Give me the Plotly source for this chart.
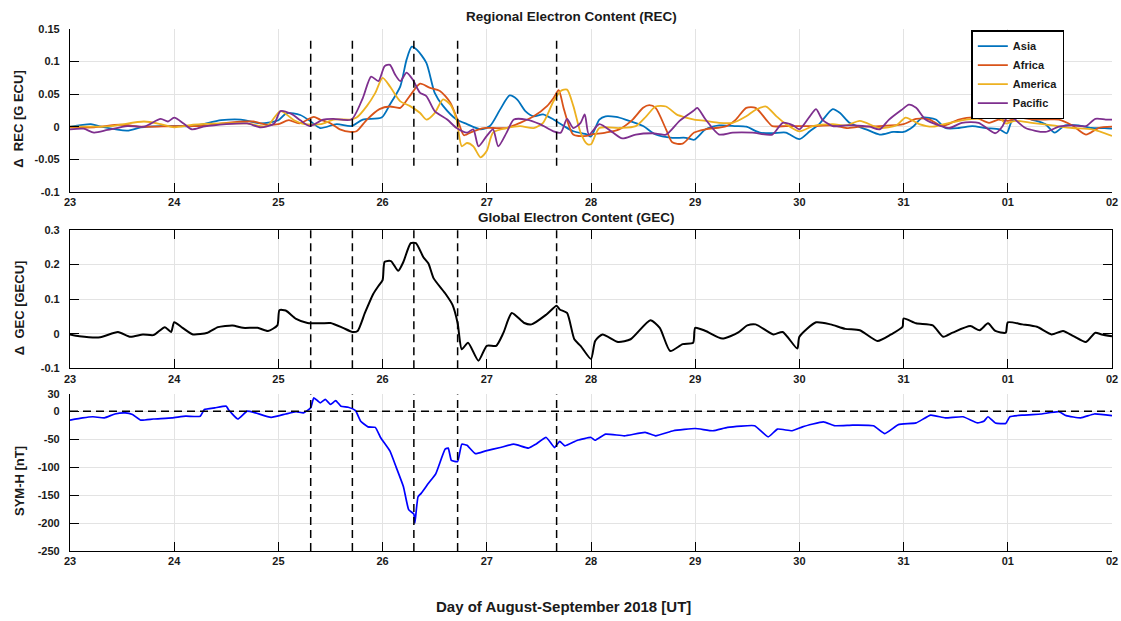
import plotly.graph_objects as go

# ---------------- data (day of Aug 2018; 32 = 01 Sep, 33 = 02 Sep) ----------------
asia_day = [23.0, 23.2, 23.3, 23.55, 23.68, 23.87, 24.0, 24.18, 24.45, 24.64, 24.83, 25.0, 25.08, 25.21, 25.31,
            25.4, 25.56, 25.7, 25.81, 25.99, 26.07, 26.17, 26.23, 26.28, 26.33, 26.42, 26.5, 26.58, 26.71, 26.81,
            26.94, 27.03, 27.13, 27.22, 27.29, 27.37, 27.45, 27.54, 27.64, 27.74, 27.83, 27.96, 28.0, 28.08, 28.14,
            28.24, 28.33, 28.5, 28.62, 28.78, 28.91, 28.99, 29.1, 29.23, 29.39, 29.49, 29.62, 29.74, 29.87, 30.0,
            30.1, 30.19, 30.32, 30.39, 30.48, 30.64, 30.77, 30.9, 31.0, 31.09, 31.18, 31.31, 31.4, 31.53, 31.66,
            31.79, 31.92, 31.99, 32.04, 32.14, 32.23, 32.36, 32.45, 32.55, 32.68, 32.8, 32.93, 33.0]
asia_val = [0.0, 0.004, 0.0, -0.006, -0.001, 0.001, 0.001, 0.001, 0.010, 0.011, 0.005, 0.010, 0.021, 0.018, 0.008,
            -0.002, 0.004, 0.001, 0.011, 0.014, 0.034, 0.062, 0.103, 0.123, 0.118, 0.098, 0.052, 0.032, 0.011, 0.004,
            -0.004, 0.001, 0.027, 0.048, 0.042, 0.024, 0.016, 0.019, 0.011, 0.001, -0.007, -0.012, -0.015, 0.011, 0.016,
            0.015, 0.011, 0.001, -0.012, -0.017, -0.017, -0.020, -0.004, 0.002, 0.001, 0.0, -0.009, -0.010, -0.009, -0.019,
            -0.007, 0.004, 0.027, 0.021, 0.006, -0.004, -0.012, -0.008, -0.008, 0.0, 0.014, 0.011, -0.002, -0.002, 0.001,
            -0.002, -0.004, -0.010, 0.009, 0.016, 0.011, 0.004, -0.009, 0.002, 0.002, -0.002, -0.002, -0.003]

africa_day = [23.0, 23.23, 23.48, 23.7, 24.0, 24.25, 24.5, 24.76, 24.89, 25.0, 25.1, 25.2, 25.34, 25.4, 25.49,
              25.59, 25.69, 25.75, 25.85, 25.97, 26.07, 26.17, 26.26, 26.36, 26.45, 26.55, 26.65, 26.73, 26.78, 26.87,
              26.97, 27.06, 27.19, 27.32, 27.45, 27.58, 27.64, 27.69, 27.74, 27.83, 27.96, 28.0, 28.14, 28.27, 28.4,
              28.5, 28.56, 28.62, 28.72, 28.78, 28.88, 28.99, 29.1, 29.3, 29.39, 29.49, 29.58, 29.68, 29.74, 29.87,
              30.0, 30.13, 30.32, 30.45, 30.58, 30.77, 31.0, 31.12, 31.25, 31.37, 31.53, 31.69, 31.82, 31.91, 32.0,
              32.1, 32.23, 32.36, 32.49, 32.62, 32.75, 32.87, 33.0]
africa_val = [-0.001, -0.001, 0.003, 0.0, 0.001, 0.001, 0.006, 0.008, 0.003, 0.004, 0.010, 0.005, 0.015, 0.011, 0.006,
              -0.004, -0.008, -0.007, 0.011, 0.027, 0.031, 0.029, 0.047, 0.066, 0.060, 0.055, 0.037, 0.006, -0.013, -0.007,
              -0.002, -0.002, -0.002, 0.006, 0.016, 0.032, 0.044, 0.056, 0.027, -0.012, -0.014, -0.012, -0.009, -0.004, 0.011,
              0.029, 0.033, 0.029, -0.004, -0.024, -0.026, -0.009, -0.004, 0.001, 0.011, 0.029, 0.029, 0.011, 0.001, 0.001,
              0.001, 0.001, 0.002, -0.002, 0.0, 0.001, 0.004, 0.012, 0.011, 0.001, 0.011, 0.014, 0.006, 0.011, 0.009,
              0.014, 0.011, 0.011, 0.011, 0.002, -0.012, -0.002, 0.0]

america_day = [23.0, 23.39, 23.71, 23.87, 24.0, 24.18, 24.45, 24.7, 24.89, 25.02, 25.15, 25.25, 25.41, 25.53, 25.69,
               25.75, 25.85, 25.93, 26.0, 26.07, 26.17, 26.26, 26.36, 26.42, 26.5, 26.58, 26.65, 26.71, 26.76, 26.81,
               26.87, 26.94, 27.0, 27.06, 27.19, 27.32, 27.45, 27.54, 27.64, 27.71, 27.77, 27.83, 27.9, 27.96, 28.0,
               28.08, 28.27, 28.43, 28.53, 28.62, 28.72, 28.82, 28.91, 28.99, 29.1, 29.23, 29.36, 29.49, 29.58, 29.68,
               29.78, 29.87, 30.0, 30.13, 30.32, 30.45, 30.58, 30.77, 30.93, 31.02, 31.15, 31.28, 31.44, 31.6, 31.76,
               31.85, 31.91, 31.98, 32.07, 32.23, 32.43, 32.62, 32.81, 33.0]
america_val = [0.0, 0.001, 0.008, 0.004, -0.001, 0.003, 0.005, 0.005, 0.001, 0.024, 0.010, 0.004, 0.004, 0.011, 0.011,
               0.014, 0.032, 0.052, 0.075, 0.062, 0.039, 0.032, 0.021, 0.011, 0.021, 0.042, 0.034, 0.011, -0.030, -0.025,
               -0.030, -0.047, -0.037, -0.009, -0.002, 0.001, -0.002, 0.006, 0.039, 0.055, 0.057, 0.032, -0.009, -0.026, -0.027,
               -0.002, -0.002, 0.001, 0.016, 0.031, 0.031, 0.019, 0.014, 0.011, 0.009, 0.006, 0.006, 0.016, 0.026, 0.031,
               0.016, 0.004, -0.007, 0.001, 0.004, 0.002, 0.009, -0.002, 0.002, 0.014, 0.004, 0.0, 0.006, 0.011, 0.014,
               0.027, 0.016, 0.005, 0.009, 0.006, 0.002, -0.002, -0.004, -0.014]

pacific_day = [23.0, 23.13, 23.23, 23.36, 23.55, 23.71, 23.87, 23.94, 24.0, 24.09, 24.17, 24.28, 24.5, 24.7, 24.83,
               24.96, 25.02, 25.12, 25.21, 25.3, 25.43, 25.53, 25.7, 25.81, 25.89, 25.96, 26.02, 26.07, 26.12, 26.17,
               26.23, 26.29, 26.36, 26.42, 26.5, 26.62, 26.71, 26.81, 26.87, 26.92, 27.0, 27.06, 27.11, 27.19, 27.26,
               27.38, 27.51, 27.64, 27.71, 27.77, 27.83, 27.9, 27.94, 27.98, 28.08, 28.21, 28.3, 28.43, 28.59, 28.72,
               28.85, 28.98, 29.02, 29.1, 29.23, 29.36, 29.55, 29.74, 29.84, 29.94, 30.0, 30.1, 30.16, 30.22, 30.32,
               30.45, 30.51, 30.67, 30.77, 30.86, 30.99, 31.05, 31.12, 31.21, 31.34, 31.44, 31.56, 31.72, 31.88, 31.95,
               32.01, 32.07, 32.17, 32.36, 32.49, 32.62, 32.75, 32.84, 32.94, 33.0]
pacific_val = [-0.004, -0.003, -0.009, -0.005, 0.001, 0.0, 0.012, 0.008, 0.014, 0.005, -0.004, 0.0, 0.004, 0.005, -0.001,
               0.005, 0.024, 0.020, 0.010, 0.001, 0.011, 0.012, 0.011, 0.044, 0.077, 0.070, 0.093, 0.095, 0.080, 0.070,
               0.083, 0.072, 0.052, 0.047, 0.024, 0.011, -0.002, -0.009, -0.004, -0.030, -0.014, -0.004, -0.030, -0.009, 0.011,
               0.011, 0.004, -0.007, -0.009, 0.012, -0.002, 0.006, 0.019, -0.012, 0.004, -0.009, -0.018, -0.012, -0.010, -0.012,
               0.009, 0.024, 0.029, 0.011, -0.012, -0.009, -0.009, -0.012, 0.006, 0.002, -0.004, 0.016, 0.027, 0.011, 0.001,
               0.002, 0.002, 0.0, -0.004, 0.011, 0.027, 0.034, 0.029, 0.011, 0.002, -0.002, 0.006, 0.006, -0.010, 0.001,
               0.019, 0.011, -0.002, -0.008, 0.0, 0.002, 0.001, 0.012, 0.011, 0.011]

gec_day = [23.0, 23.09, 23.29, 23.46, 23.58, 23.7, 23.8, 23.91, 23.97, 24.0, 24.08, 24.18, 24.32, 24.42, 24.56,
           24.66, 24.8, 24.9, 24.99, 25.01, 25.07, 25.17, 25.28, 25.41, 25.5, 25.62, 25.71, 25.76, 25.83, 25.91,
           25.96, 26.0, 26.02, 26.08, 26.15, 26.2, 26.27, 26.32, 26.39, 26.44, 26.49, 26.6, 26.67, 26.72, 26.76,
           26.82, 26.92, 27.0, 27.09, 27.16, 27.24, 27.36, 27.43, 27.57, 27.67, 27.7, 27.77, 27.84, 27.9, 28.0,
           28.04, 28.11, 28.26, 28.38, 28.57, 28.66, 28.76, 28.88, 28.98, 29.0, 29.1, 29.26, 29.41, 29.5, 29.58,
           29.75, 29.84, 29.98, 30.0, 30.16, 30.3, 30.44, 30.58, 30.75, 30.88, 30.99, 31.0, 31.12, 31.28, 31.38,
           31.47, 31.64, 31.73, 31.81, 31.88, 31.98, 32.0, 32.14, 32.28, 32.42, 32.53, 32.63, 32.75, 32.84, 32.9, 33.0]
gec_val = [-0.002, -0.007, -0.010, 0.005, -0.009, -0.002, -0.004, 0.019, 0.005, 0.033, 0.017, -0.002, 0.003, 0.019, 0.024,
           0.017, 0.017, 0.008, 0.024, 0.068, 0.067, 0.043, 0.031, 0.030, 0.031, 0.017, 0.005, 0.008, 0.060, 0.115,
           0.138, 0.155, 0.208, 0.210, 0.182, 0.208, 0.262, 0.262, 0.222, 0.203, 0.160, 0.117, 0.084, 0.031, -0.045,
           -0.026, -0.078, -0.035, -0.035, 0.003, 0.060, 0.031, 0.027, 0.055, 0.081, 0.070, 0.060, -0.016, -0.035, -0.073,
           -0.021, -0.002, -0.024, -0.016, 0.039, 0.017, -0.050, -0.030, -0.026, 0.017, 0.008, -0.014, 0.003, 0.024, 0.027,
           -0.002, 0.005, -0.043, -0.009, 0.033, 0.027, 0.014, 0.010, -0.021, -0.002, 0.020, 0.044, 0.030, 0.024, -0.009,
           0.003, 0.022, 0.010, 0.030, 0.008, 0.003, 0.033, 0.027, 0.020, -0.002, 0.008, -0.007, -0.024, 0.003, -0.002, -0.007]

symh_day = [23.0, 23.12, 23.22, 23.33, 23.43, 23.53, 23.6, 23.68, 23.8, 23.98, 24.11, 24.25, 24.29, 24.39, 24.5,
            24.52, 24.61, 24.7, 24.78, 24.93, 25.07, 25.17, 25.24, 25.31, 25.34, 25.4, 25.45, 25.5, 25.55, 25.6,
            25.67, 25.74, 25.79, 25.86, 25.93, 25.98, 26.07, 26.13, 26.2, 26.25, 26.3, 26.31, 26.34, 26.37, 26.44,
            26.51, 26.6, 26.63, 26.66, 26.72, 26.76, 26.81, 26.89, 26.99, 27.13, 27.26, 27.4, 27.47, 27.57, 27.65,
            27.7, 27.75, 27.87, 28.0, 28.04, 28.14, 28.32, 28.52, 28.62, 28.79, 29.0, 29.17, 29.31, 29.57, 29.7,
            29.79, 29.93, 30.03, 30.23, 30.34, 30.51, 30.71, 30.82, 30.95, 31.12, 31.26, 31.4, 31.57, 31.71, 31.77,
            31.81, 31.88, 31.98, 32.02, 32.15, 32.32, 32.49, 32.56, 32.7, 32.83, 33.0]
symh_val = [-16, -12, -10, -12, -5, -3, -6, -16, -14, -12, -9, -9, 3, 6, 9,
            3, -14, 0, -3, -11, -5, -1, -3, 6, 24, 15, 21, 12, 19, 9,
            7, 1, -18, -28, -29, -47, -71, -100, -135, -176, -184, -200, -153, -147, -129,
            -112, -68, -66, -88, -90, -59, -61, -76, -71, -65, -59, -66, -59, -47, -65,
            -54, -62, -52, -47, -52, -41, -44, -38, -44, -35, -31, -35, -29, -26, -46,
            -32, -35, -28, -19, -26, -25, -26, -40, -24, -21, -7, -12, -10, -21, -18,
            -10, -21, -22, -10, -7, -5, -1, -8, -12, -5, -8]

event_days = [25.31, 25.71, 26.30, 26.72, 27.67]
day_ticks = [23, 24, 25, 26, 27, 28, 29, 30, 31, 32, 33]
day_labels = ["23", "24", "25", "26", "27", "28", "29", "30", "31", "01", "02"]
rec_ticks = [-0.1, -0.05, 0, 0.05, 0.1, 0.15]
rec_labels = ["-0.1", "-0.05", "0", "0.05", "0.1", "0.15"]
gec_ticks = [-0.1, 0, 0.1, 0.2, 0.3]
gec_labels = ["-0.1", "0", "0.1", "0.2", "0.3"]
symh_ticks = [-250, -200, -150, -100, -50, 0, 30]
symh_labels = ["-250", "-200", "-150", "-100", "-50", "0", "30"]

# ---------------- figure ----------------
FONT = "Liberation Sans"
TXT = "#1a1a1a"
fig = go.Figure()
rec = [("Asia", asia_day, asia_val, "#0072BD"),
       ("Africa", africa_day, africa_val, "#D95319"),
       ("America", america_day, america_val, "#EDB120"),
       ("Pacific", pacific_day, pacific_val, "#7E2F8E")]
for name, d, v, c in rec:
    fig.add_trace(go.Scatter(x=d, y=v, name=name, mode="lines",
                             line=dict(color=c, width=1.8, shape="spline", smoothing=0.7),
                             xaxis="x", yaxis="y"))
fig.add_trace(go.Scatter(x=gec_day, y=gec_val, mode="lines", showlegend=False,
                         line=dict(color="black", width=2, shape="spline", smoothing=0.6),
                         xaxis="x2", yaxis="y2"))
fig.add_trace(go.Scatter(x=symh_day, y=symh_val, mode="lines", showlegend=False,
                         line=dict(color="#0000FF", width=1.7, shape="spline", smoothing=0.4),
                         xaxis="x3", yaxis="y3"))

grid = "#e3e3e3"
def xax(anchor, mirror):
    return dict(range=[23, 33], tickvals=day_ticks, ticktext=day_labels, anchor=anchor,
                showgrid=True, gridcolor=grid, gridwidth=1, zeroline=False, automargin=False,
                showline=True, linecolor="black", linewidth=1.2, mirror=mirror,
                ticks="inside", ticklen=9, tickwidth=1.2, tickcolor="black",
                ticklabeloverflow="allow",
                tickfont=dict(size=11, color=TXT, weight="bold"), domain=[0, 1])
def yax(rng, tv, tt, dom, mirror):
    return dict(range=rng, tickvals=tv, ticktext=tt, domain=dom, automargin=False,
                showgrid=True, gridcolor=grid, gridwidth=1, zeroline=False,
                showline=True, linecolor="black", linewidth=1.2, mirror=mirror,
                ticks="inside", ticklen=9, tickwidth=1.2, tickcolor="black",
                ticklabelstandoff=7, ticklabeloverflow="allow",
                tickfont=dict(size=11, color=TXT, weight="bold"))

shapes = []
for d in event_days:
    shapes.append(dict(type="line", xref="x", yref="y", x0=d, x1=d, y0=-0.06, y1=0.135,
                       line=dict(color="black", width=1.5, dash="8px,5px")))
    shapes.append(dict(type="line", xref="x2", yref="y2 domain", x0=d, x1=d, y0=0, y1=1,
                       line=dict(color="black", width=1.5, dash="8px,5px")))
    shapes.append(dict(type="line", xref="x3", yref="y3 domain", x0=d, x1=d, y0=0, y1=1,
                       line=dict(color="black", width=1.5, dash="8px,5px")))
shapes.append(dict(type="line", xref="x3", yref="y3", x0=day_ticks[0], x1=day_ticks[-1], y0=0, y1=0,
                   line=dict(color="black", width=1.5, dash="8px,5px")))

tf = dict(size=13.5, color=TXT, weight="bold")
yf = dict(size=13, color=TXT, weight="bold")
common = dict(xref="paper", yref="paper", showarrow=False, xanchor="center", yanchor="middle")
ann = [
    dict(text="Regional Electron Content (REC)", x=0.481, y=1.023, font=tf, **common),
    dict(text="Global Electron Content (GEC)", x=0.486, y=0.638, font=tf, **common),
    dict(text="Δ  REC [G ECU]", x=-0.049, y=0.828, textangle=-90, font=yf, **common),
    dict(text="Δ  GEC [GECU]", x=-0.049, y=0.467, textangle=-90, font=yf, **common),
    dict(text="SYM-H [nT]", x=-0.049, y=0.134, textangle=-90, font=yf, **common),
    dict(text="Day of August-September 2018 [UT]", x=0.474, y=-0.107,
         font=dict(size=15, color=TXT, weight="bold"), **common),
]

fig.update_layout(
    width=1121, height=621, autosize=False,
    margin=dict(l=69.5, r=8.5, t=29, b=70),
    paper_bgcolor="white", plot_bgcolor="white",
    font=dict(family=FONT, size=11, color=TXT),
    xaxis=xax("y", False), yaxis=yax([-0.1, 0.15], rec_ticks, rec_labels, [0.688, 1.0], False),
    xaxis2=xax("y2", "ticks"), yaxis2=yax([-0.1, 0.3], gec_ticks, gec_labels, [0.35, 0.615], "ticks"),
    xaxis3=xax("y3", False), yaxis3=yax([-250, 30], symh_ticks, symh_labels, [0.0, 0.30], False),
    shapes=shapes, annotations=ann,
    legend=dict(x=0.865, y=0.998, xanchor="left", yanchor="top", bgcolor="white",
                bordercolor="black", borderwidth=1.5, font=dict(size=11, weight="bold", color=TXT),
                tracegroupgap=0, itemwidth=30),
    showlegend=True,
)
fig.write_html("out.html", config={"displayModeBar": False},
               post_script="document.body.style.margin='0';document.body.style.overflow='hidden';")
